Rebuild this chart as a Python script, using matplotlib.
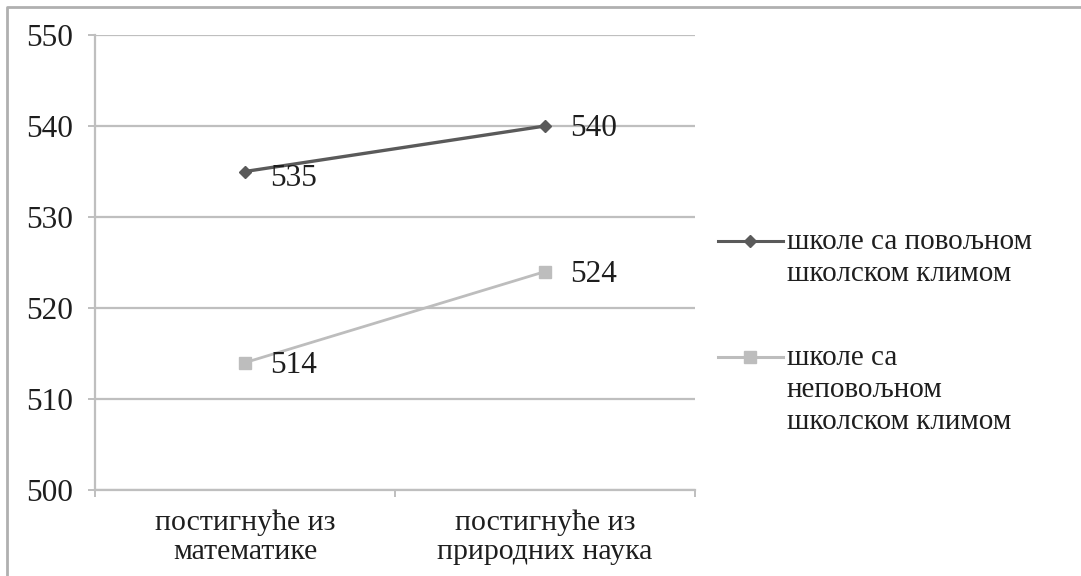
import matplotlib.pyplot as plt
from matplotlib.lines import Line2D

# ── Data ─────────────────────────────────────────────────────────────────────
categories = ["постигнуће из\nматематике", "постигнуће из\nприродних наука"]
series_names = ["школе са повољном\nшколском климом",
                "школе са\nнеповољном\nшколском климом"]
favourable = [535, 540]
unfavourable = [514, 524]
y_ticks = [500, 510, 520, 530, 540, 550]

# ── Style ────────────────────────────────────────────────────────────────────
plt.rcParams["font.family"] = ["Liberation Serif", "DejaVu Serif"]
FS_NUM = 22.5
FS_CAT = 21.5
FS_LEG = 21
TXT = "#1e1e1e"
GRID = "#bfbfbf"
DARK = "#5a5a5a"
LIGHT = "#bdbdbd"

fig = plt.figure(figsize=(10.81, 5.76), dpi=100)
ax = fig.add_axes([95 / 1081, 86 / 576, 600 / 1081, 455 / 576])

x = [0.5, 1.5]
ax.plot(x, favourable, color=DARK, lw=2.4, marker="D", ms=6.5,
        markeredgecolor=DARK, zorder=3)
ax.plot(x, unfavourable, color=LIGHT, lw=2.0, marker="s", ms=8,
        markeredgecolor=LIGHT, zorder=3)

# data labels
for xi, v in zip(x, favourable):
    dy = -5 if xi < 1 else -2
    ax.annotate(str(v), (xi, v), xytext=(18, dy), textcoords="offset points",
                ha="left", va="center", fontsize=FS_NUM, color=TXT)
for xi, v in zip(x, unfavourable):
    ax.annotate(str(v), (xi, v), xytext=(18, -2), textcoords="offset points",
                ha="left", va="center", fontsize=FS_NUM, color=TXT)

ax.set_xlim(0, 2)
ax.set_ylim(500, 550)
ax.set_yticks(y_ticks)
ax.set_yticklabels([str(t) for t in y_ticks])
ax.yaxis.grid(True, color=GRID, lw=1.6)
ax.set_axisbelow(True)

ax.set_xticks([0, 1, 2])
ax.set_xticklabels([])
ax.set_xticks(x, minor=True)
ax.set_xticklabels(categories, minor=True, fontsize=FS_CAT, color=TXT,
                   linespacing=1.17)
ax.tick_params(axis="x", which="minor", length=0, pad=14)
ax.tick_params(axis="x", which="major", length=5, width=1.4, color=GRID)
ax.tick_params(axis="y", length=5, width=1.4, color=GRID, pad=11,
               labelsize=FS_NUM, labelcolor=TXT)

for s in ["top", "right"]:
    ax.spines[s].set_visible(False)
for s in ["left", "bottom"]:
    ax.spines[s].set_color(GRID)
    ax.spines[s].set_linewidth(1.6)

# legend drawn by hand to match the spaced-out layout
for name, col, mk, ms, ypix in [(series_names[0], DARK, "D", 6.5, 241),
                                 (series_names[1], LIGHT, "s", 8, 357)]:
    yf = 1 - ypix / 576
    fig.add_artist(Line2D([718 / 1081, 783 / 1081], [yf, yf], color=col,
                          lw=2.2, transform=fig.transFigure))
    fig.add_artist(Line2D([750 / 1081], [yf], color=col, marker=mk, ms=ms,
                          markeredgecolor=col, transform=fig.transFigure))
    fig.text(787 / 1081, yf + 12 / 576, name, ha="left", va="top",
             fontsize=FS_LEG, color=TXT, linespacing=1.3)

# outer frame (only top and left edges visible in the crop)
fig.add_artist(Line2D([7 / 1081, 7 / 1081, 1.0], [0.0, 1 - 7 / 576, 1 - 7 / 576],
                      color="#b0b0b0", lw=2, transform=fig.transFigure))

fig.savefig("out.png", dpi=100)
